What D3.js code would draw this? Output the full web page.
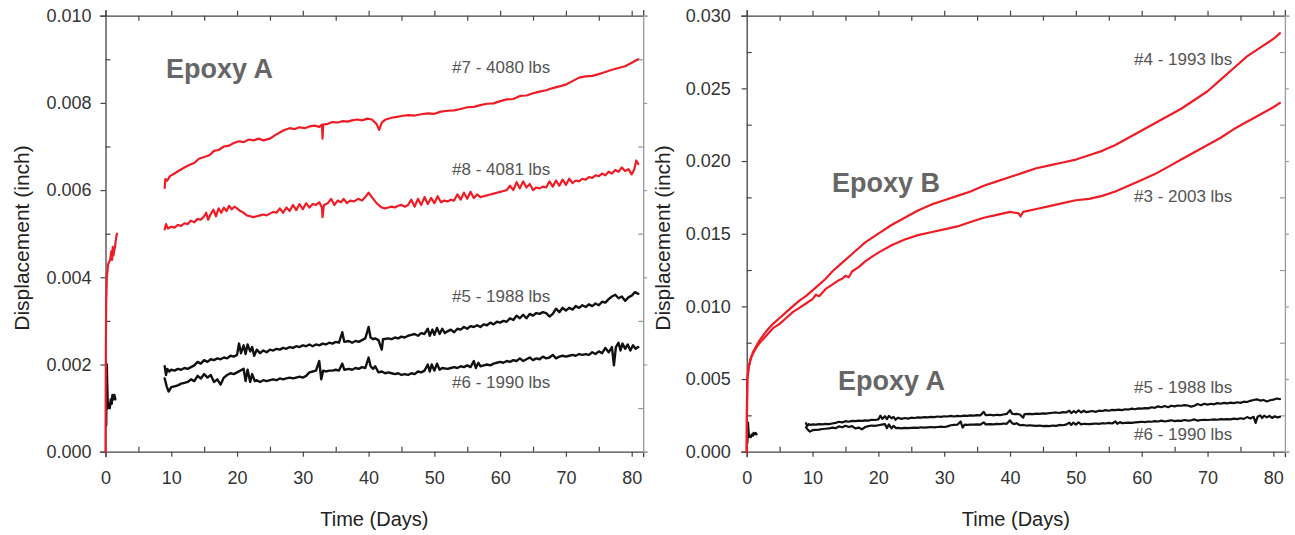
<!DOCTYPE html>
<html>
<head>
<meta charset="utf-8">
<script src="https://cdn.jsdelivr.net/npm/d3@7"></script>
<style>
  html, body { margin: 0; padding: 0; background: #fff; }
  svg { display: block; font-family: "Liberation Sans", Arial, sans-serif; }
</style>
</head>
<body>
<svg id="chart" width="1295" height="535"></svg>
<script>
// ---------------- DATA ----------------
const xMajorTicks = [0, 10, 20, 30, 40, 50, 60, 70, 80];
const xMinorTicks = [5, 15, 25, 35, 45, 55, 65, 75];
const yMajorTicksA = [0, 0.002, 0.004, 0.006, 0.008, 0.010];
const yMinorTicksA = [0.001, 0.003, 0.005, 0.007, 0.009];
const yMajorTicksB = [0, 0.005, 0.010, 0.015, 0.020, 0.025, 0.030];
const yMinorTicksB = [0.0025, 0.0075, 0.0125, 0.0175, 0.0225, 0.0275];

// Epoxy A, specimens #7 / #8 (≈4080 lbs), first loading (days 0–2)
const early78 = [[0,0],[0.03,0.0012],[0.06,0.0025],[0.1,0.0034],[0.2,0.0040],[0.4,0.0043],[0.7,0.0044],[0.9,0.0046],[1.0,0.0044],[1.1,0.0047],[1.2,0.0045],[1.3,0.0046],[1.45,0.0047],[1.6,0.0049],[1.75,0.0050]];
// Epoxy A, specimens #5 / #6 (≈1990 lbs), first loading
const early56 = [[0.1,0.0006],[0.15,0.0013],[0.2,0.0020],[0.25,0.0016],[0.35,0.0010],[0.5,0.0011],[0.65,0.0010],[0.8,0.0012],[0.95,0.0011],[1.05,0.0013],[1.2,0.0012],[1.35,0.0013],[1.5,0.0012]];

const spec7 = [[9.0,0.00605],[9.1,0.00625],[9.4,0.00622],[9.8,0.00632],[10.5,0.00638],[11.2,0.00645],[12,0.00652],[12.8,0.00658],[13.5,0.00662],[14.2,0.00672],[15,0.00676],[15.8,0.0068],[16.5,0.0069],[17.2,0.00692],[18,0.007],[18.8,0.00702],[19.5,0.00708],[20.3,0.00712],[21,0.0071],[21.8,0.00716],[22.5,0.00714],[23.3,0.00718],[24,0.00714],[25,0.00718],[25.8,0.00726],[26.5,0.00732],[27.2,0.00738],[28,0.00742],[28.8,0.0074],[29.5,0.00744],[30.3,0.00742],[31,0.00746],[31.8,0.00748],[32.5,0.00745],[32.9,0.0075],[33.0,0.00718],[33.1,0.0075],[33.8,0.00752],[34.5,0.00756],[35.3,0.00755],[36,0.00758],[36.8,0.00757],[37.5,0.0076],[38.3,0.00762],[39,0.0076],[39.8,0.00764],[40.5,0.00762],[41.2,0.00752],[41.6,0.00738],[42.0,0.00755],[42.6,0.00762],[43.5,0.00766],[44.3,0.00768],[45,0.0077],[46,0.00772],[47,0.00771],[48,0.00774],[49,0.00776],[50,0.00775],[51,0.0078],[52,0.00782],[53,0.00783],[54,0.00786],[55,0.0079],[56,0.00791],[57,0.00795],[58,0.00798],[59,0.00799],[60,0.00804],[61,0.00808],[62,0.00809],[63,0.00816],[64,0.00817],[65,0.00822],[66,0.00826],[67,0.00829],[68,0.00834],[69,0.00838],[70,0.00842],[71,0.0085],[72,0.00858],[73,0.00861],[74,0.00862],[75,0.00866],[76,0.00871],[77,0.00876],[78,0.0088],[79,0.00884],[80,0.00892],[80.7,0.00898],[81,0.009]];

const spec8 = [[9.0,0.0051],[9.2,0.00522],[9.5,0.00512],[10,0.00516],[10.5,0.00514],[11,0.0052],[11.5,0.00518],[12,0.00524],[12.5,0.00522],[13,0.0053],[13.5,0.00526],[14,0.00534],[14.5,0.00532],[15,0.0054],[15.3,0.00548],[15.6,0.00532],[16,0.00545],[16.4,0.00555],[16.8,0.0054],[17.2,0.00558],[17.6,0.00548],[18,0.0056],[18.4,0.00552],[18.8,0.00564],[19.2,0.00556],[19.6,0.00562],[20,0.00558],[20.5,0.00552],[21,0.00548],[21.5,0.00542],[22,0.0054],[22.5,0.00538],[23,0.0054],[23.5,0.00542],[24,0.00544],[24.5,0.00542],[25,0.00546],[25.5,0.0055],[26,0.00548],[26.5,0.00558],[27,0.00548],[27.5,0.0056],[28,0.00552],[28.5,0.00566],[29,0.00554],[29.5,0.00568],[30,0.00556],[30.5,0.0057],[31,0.0056],[31.5,0.00568],[32,0.00566],[32.5,0.00572],[32.9,0.0056],[33.0,0.00538],[33.2,0.00566],[33.8,0.0057],[34.3,0.0058],[34.8,0.00566],[35.3,0.00576],[35.8,0.00572],[36.2,0.0058],[36.7,0.0057],[37.2,0.00576],[37.8,0.00574],[38.4,0.0058],[39,0.00576],[39.5,0.00584],[40,0.00594],[40.5,0.00584],[41,0.00574],[41.5,0.00566],[42,0.0056],[42.5,0.00558],[43,0.0056],[43.5,0.00562],[44,0.0056],[44.5,0.00564],[45,0.00566],[45.5,0.00562],[46,0.00566],[46.5,0.00578],[47,0.00562],[47.5,0.0058],[48,0.00566],[48.5,0.00584],[49,0.00568],[49.5,0.00582],[50,0.0057],[50.5,0.00586],[51,0.00572],[51.5,0.00576],[52,0.00574],[52.5,0.00578],[53,0.00576],[53.5,0.0059],[54,0.00578],[54.5,0.00594],[55,0.0058],[55.5,0.00596],[56,0.00582],[56.5,0.0059],[57,0.00584],[57.5,0.00586],[58,0.00588],[58.5,0.0059],[59,0.00592],[59.5,0.00594],[60,0.00596],[60.5,0.00598],[61,0.006],[61.5,0.0061],[62,0.006],[62.5,0.00618],[63,0.00604],[63.5,0.0062],[64,0.00606],[64.5,0.00614],[65,0.006],[65.5,0.00606],[66,0.00604],[66.5,0.00608],[67,0.00606],[67.5,0.0062],[68,0.00608],[68.5,0.00622],[69,0.0061],[69.5,0.00624],[70,0.00612],[70.5,0.00626],[71,0.00616],[71.5,0.00622],[72,0.0062],[72.5,0.00626],[73,0.00624],[73.5,0.0063],[74,0.00628],[74.5,0.00634],[75,0.00632],[75.5,0.00638],[76,0.00634],[76.5,0.00642],[77,0.00638],[77.5,0.00646],[78,0.00642],[78.5,0.00652],[79,0.00644],[79.5,0.00648],[80,0.00636],[80.4,0.00648],[80.7,0.00668],[81,0.0066]];

const spec5 = [[9.0,0.00196],[9.2,0.00176],[9.4,0.0019],[9.7,0.00184],[10,0.00188],[10.5,0.00186],[11,0.0019],[11.5,0.00188],[12,0.00192],[12.5,0.0019],[13,0.00194],[13.5,0.00198],[14,0.00206],[14.5,0.00202],[15,0.0021],[15.5,0.00206],[16,0.00212],[16.5,0.0021],[17,0.00214],[17.5,0.00212],[18,0.00216],[18.5,0.00214],[19,0.0022],[19.5,0.00218],[20,0.00222],[20.3,0.00248],[20.6,0.00226],[21,0.00244],[21.3,0.00224],[21.6,0.00246],[22,0.0023],[22.3,0.0024],[22.6,0.0022],[23,0.00234],[23.5,0.00226],[24,0.00232],[24.5,0.00228],[25,0.00234],[25.5,0.00232],[26,0.00236],[26.5,0.00234],[27,0.00238],[27.5,0.00236],[28,0.0024],[28.5,0.00238],[29,0.00242],[29.5,0.0024],[30,0.00244],[30.5,0.00242],[31,0.00246],[31.5,0.00242],[32,0.00246],[32.5,0.00244],[33,0.00248],[33.5,0.00246],[34,0.0025],[34.5,0.00248],[35,0.00252],[35.5,0.0025],[36,0.00274],[36.3,0.00252],[37,0.00254],[37.5,0.0025],[38,0.00254],[38.5,0.00252],[39,0.00256],[39.5,0.0026],[40,0.00286],[40.3,0.00262],[40.7,0.00258],[41,0.0026],[41.5,0.00256],[42,0.00234],[42.2,0.00258],[43,0.0026],[43.5,0.00258],[44,0.00262],[44.5,0.0026],[45,0.00264],[45.5,0.00262],[46,0.00266],[46.5,0.00268],[47,0.0027],[47.5,0.00266],[48,0.00272],[48.5,0.0027],[49,0.00282],[49.3,0.00266],[49.7,0.0028],[50,0.00268],[50.4,0.00284],[50.8,0.0027],[51.2,0.00282],[51.6,0.00272],[52,0.00276],[52.5,0.0028],[53,0.00274],[53.5,0.00282],[54,0.0028],[54.5,0.00286],[55,0.00282],[55.5,0.00288],[56,0.00286],[56.5,0.0029],[57,0.00286],[57.5,0.00292],[58,0.0029],[58.5,0.00296],[59,0.00292],[59.5,0.00298],[60,0.00296],[60.5,0.003],[61,0.00298],[61.5,0.00306],[62,0.00302],[62.5,0.00312],[63,0.00306],[63.5,0.00314],[64,0.00306],[64.5,0.00316],[65,0.00312],[65.5,0.00318],[66,0.00316],[66.5,0.0032],[67,0.00318],[67.5,0.0031],[68,0.00316],[68.5,0.00328],[69,0.0032],[69.5,0.0033],[70,0.00324],[70.5,0.0033],[71,0.00326],[71.5,0.00334],[72,0.0033],[72.5,0.00336],[73,0.00332],[73.5,0.00338],[74,0.00334],[74.5,0.0034],[75,0.00336],[75.5,0.00344],[76,0.00342],[76.5,0.0035],[77,0.00356],[77.5,0.0036],[78,0.00352],[78.5,0.00356],[79,0.00346],[79.5,0.00354],[80,0.00358],[80.5,0.00366],[81,0.00362]];

const spec6 = [[9.0,0.00168],[9.3,0.0015],[9.6,0.00138],[10,0.00148],[10.5,0.0015],[11,0.00152],[11.5,0.00156],[12,0.00158],[12.5,0.0016],[13,0.00166],[13.5,0.00162],[14,0.00174],[14.5,0.00168],[15,0.00178],[15.5,0.0017],[16,0.00176],[16.5,0.0016],[17,0.00166],[17.5,0.00154],[18,0.0017],[18.5,0.00176],[19,0.0018],[19.5,0.00178],[20,0.00182],[20.5,0.00186],[21,0.0019],[21.3,0.00162],[21.6,0.00188],[22,0.0016],[22.3,0.00178],[22.7,0.00162],[23,0.00164],[23.5,0.0016],[24,0.00164],[24.5,0.00162],[25,0.00164],[25.5,0.00166],[26,0.00164],[26.5,0.00168],[27,0.00166],[27.5,0.00168],[28,0.0017],[28.5,0.00168],[29,0.0017],[29.5,0.00172],[30,0.0017],[30.5,0.00174],[31,0.00182],[31.5,0.00184],[32,0.00186],[32.5,0.00208],[32.8,0.00166],[33.1,0.00186],[33.5,0.00184],[34,0.00186],[34.5,0.00186],[35,0.00188],[35.5,0.00186],[36,0.00202],[36.3,0.00188],[37,0.0019],[37.5,0.00188],[38,0.00192],[38.5,0.0019],[39,0.00194],[39.5,0.00192],[40,0.00216],[40.3,0.00196],[40.7,0.0019],[41,0.00196],[41.5,0.00182],[42,0.00184],[42.5,0.0018],[43,0.00182],[43.5,0.0018],[44,0.00178],[44.5,0.0018],[45,0.00176],[45.5,0.00178],[46,0.00176],[46.5,0.0018],[47,0.00178],[47.5,0.00184],[48,0.00182],[48.5,0.00186],[49,0.002],[49.3,0.00184],[49.6,0.002],[50,0.00186],[50.4,0.00202],[50.8,0.00188],[51.2,0.00192],[52,0.0019],[52.5,0.00192],[53,0.00194],[53.5,0.00192],[54,0.00196],[54.5,0.00194],[55,0.00198],[55.5,0.00194],[56,0.00208],[56.3,0.00192],[56.7,0.00204],[57,0.00196],[57.5,0.00198],[58,0.002],[58.5,0.00198],[59,0.00202],[59.5,0.00204],[60,0.00206],[60.5,0.00204],[61,0.00208],[61.5,0.00206],[62,0.0021],[62.5,0.00208],[63,0.00214],[63.5,0.00208],[64,0.00212],[64.5,0.00216],[65,0.0021],[65.5,0.00214],[66,0.00212],[66.5,0.00218],[67,0.00214],[67.5,0.00216],[68,0.00222],[68.5,0.00214],[69,0.00218],[69.5,0.0022],[70,0.00218],[70.5,0.0022],[71,0.00222],[71.5,0.0022],[72,0.00224],[72.5,0.00222],[73,0.00224],[73.5,0.00222],[74,0.00228],[74.5,0.00224],[75,0.0023],[75.5,0.00226],[76,0.00238],[76.5,0.00228],[77,0.0024],[77.3,0.00198],[77.6,0.0024],[78,0.0025],[78.3,0.00232],[78.6,0.00248],[79,0.00236],[79.4,0.00246],[79.8,0.00232],[80.2,0.00244],[80.6,0.00236],[81,0.0024]];

// Epoxy B, specimens #4 / #3
const spec4 = [[0,0],[0.02,0.0015],[0.05,0.0035],[0.1,0.005],[0.3,0.0058],[0.6,0.0064],[1,0.0069],[1.5,0.0073],[2,0.0077],[3,0.0083],[4,0.0088],[5,0.0092],[6,0.0096],[7,0.01],[8,0.0104],[9,0.0107],[10,0.0111],[11,0.0115],[12,0.0119],[13,0.0124],[14,0.0128],[15,0.0132],[16,0.0136],[17,0.014],[18,0.0144],[20,0.015],[22,0.0156],[24,0.0161],[26,0.0166],[28,0.017],[30,0.0173],[32,0.0176],[34,0.0179],[36,0.0183],[38,0.0186],[40,0.0189],[42,0.0192],[44,0.0195],[46,0.0197],[48,0.0199],[50,0.0201],[52,0.0204],[54,0.0207],[56,0.0211],[58,0.0216],[60,0.0221],[62,0.0226],[64,0.0231],[66,0.0236],[68,0.0242],[70,0.0248],[72,0.0256],[74,0.0264],[75,0.0268],[76,0.0272],[78,0.0278],[80,0.0284],[81,0.0288]];
const spec3 = [[0,0],[0.02,0.0015],[0.05,0.0035],[0.1,0.005],[0.3,0.0058],[0.6,0.0064],[1,0.0068],[1.5,0.0072],[2,0.0075],[3,0.008],[4,0.0085],[5,0.0088],[6,0.0092],[7,0.0096],[8,0.0099],[9,0.0102],[10,0.0105],[10.5,0.0108],[11,0.0107],[12,0.0112],[13,0.0115],[14,0.0118],[14.5,0.0119],[15,0.0121],[15.5,0.012],[16,0.0124],[17,0.0127],[18,0.0131],[19,0.0134],[20,0.0137],[22,0.0142],[24,0.0146],[26,0.0149],[28,0.0151],[30,0.0153],[32,0.0155],[34,0.0158],[36,0.0161],[38,0.0163],[40,0.0165],[41.3,0.0164],[41.6,0.0162],[42,0.0165],[44,0.0167],[46,0.0169],[48,0.0171],[50,0.0173],[52,0.0174],[54,0.0176],[56,0.0179],[58,0.0183],[60,0.0187],[62,0.0191],[64,0.0196],[66,0.0201],[68,0.0206],[70,0.0211],[72,0.0216],[74,0.0222],[76,0.0227],[78,0.0232],[80,0.0237],[81,0.024]];

const xTitle = "Time (Days)";
const yTitle = "Displacement (inch)";

// ---------------- DRAW ----------------
const svg = d3.select("#chart");
const RED = "#ee1c25", BLACK = "#111";
const AXIS = "#444", FRAME_R = "#9a9a9a";

function panel(opt) {
  const x = d3.scaleLinear().domain([0, 81.75]).range([opt.x0, opt.x1]);
  const y = d3.scaleLinear().domain([0, opt.ymax]).range([451.7, 15.7]);
  const g = svg.append("g");
  const line = d3.line().x(d => x(d[0])).y(d => y(d[1]));

  const styleAxis = (sel, col) => {
    sel.select(".domain").attr("stroke", col).attr("stroke-width", 1.3);
    sel.selectAll(".tick line").attr("stroke", col).attr("stroke-width", 1.2);
    sel.selectAll(".tick text").attr("fill", "#333").style("font-size", "18px")
      .style("font-family", '"Liberation Sans", Arial, sans-serif');
  };
  // bottom
  g.append("g").attr("transform", `translate(0,${y(0)})`)
    .call(d3.axisBottom(x).tickValues(xMajorTicks).tickSize(5).tickPadding(15).tickFormat(d3.format("d")))
    .call(s => styleAxis(s, AXIS));
  g.append("g").attr("transform", `translate(0,${y(0)})`)
    .call(d3.axisBottom(x).tickValues(xMinorTicks).tickSize(-5).tickFormat(""))
    .call(s => styleAxis(s, AXIS)).select(".domain").remove();
  // top
  g.append("g").attr("transform", `translate(0,${y(opt.ymax)})`)
    .call(d3.axisTop(x).tickValues(xMajorTicks).tickSize(5).tickFormat(""))
    .call(s => styleAxis(s, AXIS));
  g.append("g").attr("transform", `translate(0,${y(opt.ymax)})`)
    .call(d3.axisTop(x).tickValues(xMinorTicks).tickSize(-5).tickFormat(""))
    .call(s => styleAxis(s, AXIS)).select(".domain").remove();
  // left
  g.append("g").attr("transform", `translate(${x(0)},0)`)
    .call(d3.axisLeft(y).tickValues(opt.yMajor).tickSize(5).tickPadding(opt.ypad).tickFormat(d3.format(".3f")))
    .call(s => styleAxis(s, AXIS));
  g.append("g").attr("transform", `translate(${x(0)},0)`)
    .call(d3.axisLeft(y).tickValues(opt.yMinor).tickSize(-5).tickFormat(""))
    .call(s => styleAxis(s, AXIS)).select(".domain").remove();
  // right
  g.append("g").attr("transform", `translate(${x(81.75)},0)`)
    .call(d3.axisRight(y).tickValues(opt.yMajor).tickSize(4).tickFormat(""))
    .call(s => styleAxis(s, FRAME_R));
  g.append("g").attr("transform", `translate(${x(81.75)},0)`)
    .call(d3.axisRight(y).tickValues(opt.yMinor).tickSize(-5).tickFormat(""))
    .call(s => styleAxis(s, FRAME_R)).select(".domain").remove();
  g.selectAll(".domain").attr("stroke-linecap", "square");

  // titles
  g.append("text").attr("x", (opt.x0 + opt.x1) / 2).attr("y", 526)
    .attr("text-anchor", "middle").attr("fill", "#222").style("font-size", "20px").text(xTitle);
  g.append("text").attr("transform", `translate(${opt.ytx},238) rotate(-90)`)
    .attr("text-anchor", "middle").attr("dy", "0.35em").attr("fill", "#222").style("font-size", "21px").text(yTitle);

  // series
  opt.series.forEach(s => {
    g.append("path").datum(s.data).attr("d", line)
      .attr("fill", "none").attr("stroke", s.color).attr("stroke-width", s.w)
      .attr("stroke-linejoin", "round").attr("stroke-linecap", "round");
  });

  // labels
  opt.labels.forEach(l => {
    g.append("text").attr("x", l.x).attr("y", l.y).attr("fill", l.fill)
      .style("font-size", l.size + "px").style("font-weight", l.bold ? "bold" : "normal")
      .text(l.t);
  });
}

panel({
  x0: 105.5, x1: 643.2, ymax: 0.010, yMajor: yMajorTicksA, yMinor: yMinorTicksA, ypad: 9, ytx: 22,
  series: [
    {data: early56, color: BLACK, w: 2.4},
    {data: early78, color: RED, w: 2.2},
    {data: spec5, color: BLACK, w: 2.4},
    {data: spec6, color: BLACK, w: 2.4},
    {data: spec7, color: RED, w: 2.2},
    {data: spec8, color: RED, w: 2.2}
  ],
  labels: [
    {t: "Epoxy A", x: 166, y: 78, size: 27, bold: true, fill: "#666"},
    {t: "#7 - 4080 lbs", x: 452, y: 73, size: 17, fill: "#555"},
    {t: "#8 - 4081 lbs", x: 452, y: 175, size: 17, fill: "#555"},
    {t: "#5 - 1988 lbs", x: 452, y: 302, size: 17, fill: "#555"},
    {t: "#6 - 1990 lbs", x: 452, y: 388, size: 17, fill: "#555"}
  ]
});

panel({
  x0: 746.7, x1: 1284.9, ymax: 0.030, yMajor: yMajorTicksB, yMinor: yMinorTicksB, ypad: 11, ytx: 663,
  series: [
    {data: early56, color: BLACK, w: 2.2},
    {data: spec5, color: BLACK, w: 2.2},
    {data: spec6, color: BLACK, w: 2.2},
    {data: spec4, color: RED, w: 2.2},
    {data: spec3, color: RED, w: 2.2}
  ],
  labels: [
    {t: "Epoxy B", x: 832, y: 192, size: 27, bold: true, fill: "#666"},
    {t: "Epoxy A", x: 838, y: 390, size: 27, bold: true, fill: "#666"},
    {t: "#4 - 1993 lbs", x: 1134, y: 65, size: 17, fill: "#555"},
    {t: "#3 - 2003 lbs", x: 1134, y: 202, size: 17, fill: "#555"},
    {t: "#5 - 1988 lbs", x: 1134, y: 393, size: 17, fill: "#555"},
    {t: "#6 - 1990 lbs", x: 1134, y: 440, size: 17, fill: "#555"}
  ]
});
</script>
</body>
</html>
